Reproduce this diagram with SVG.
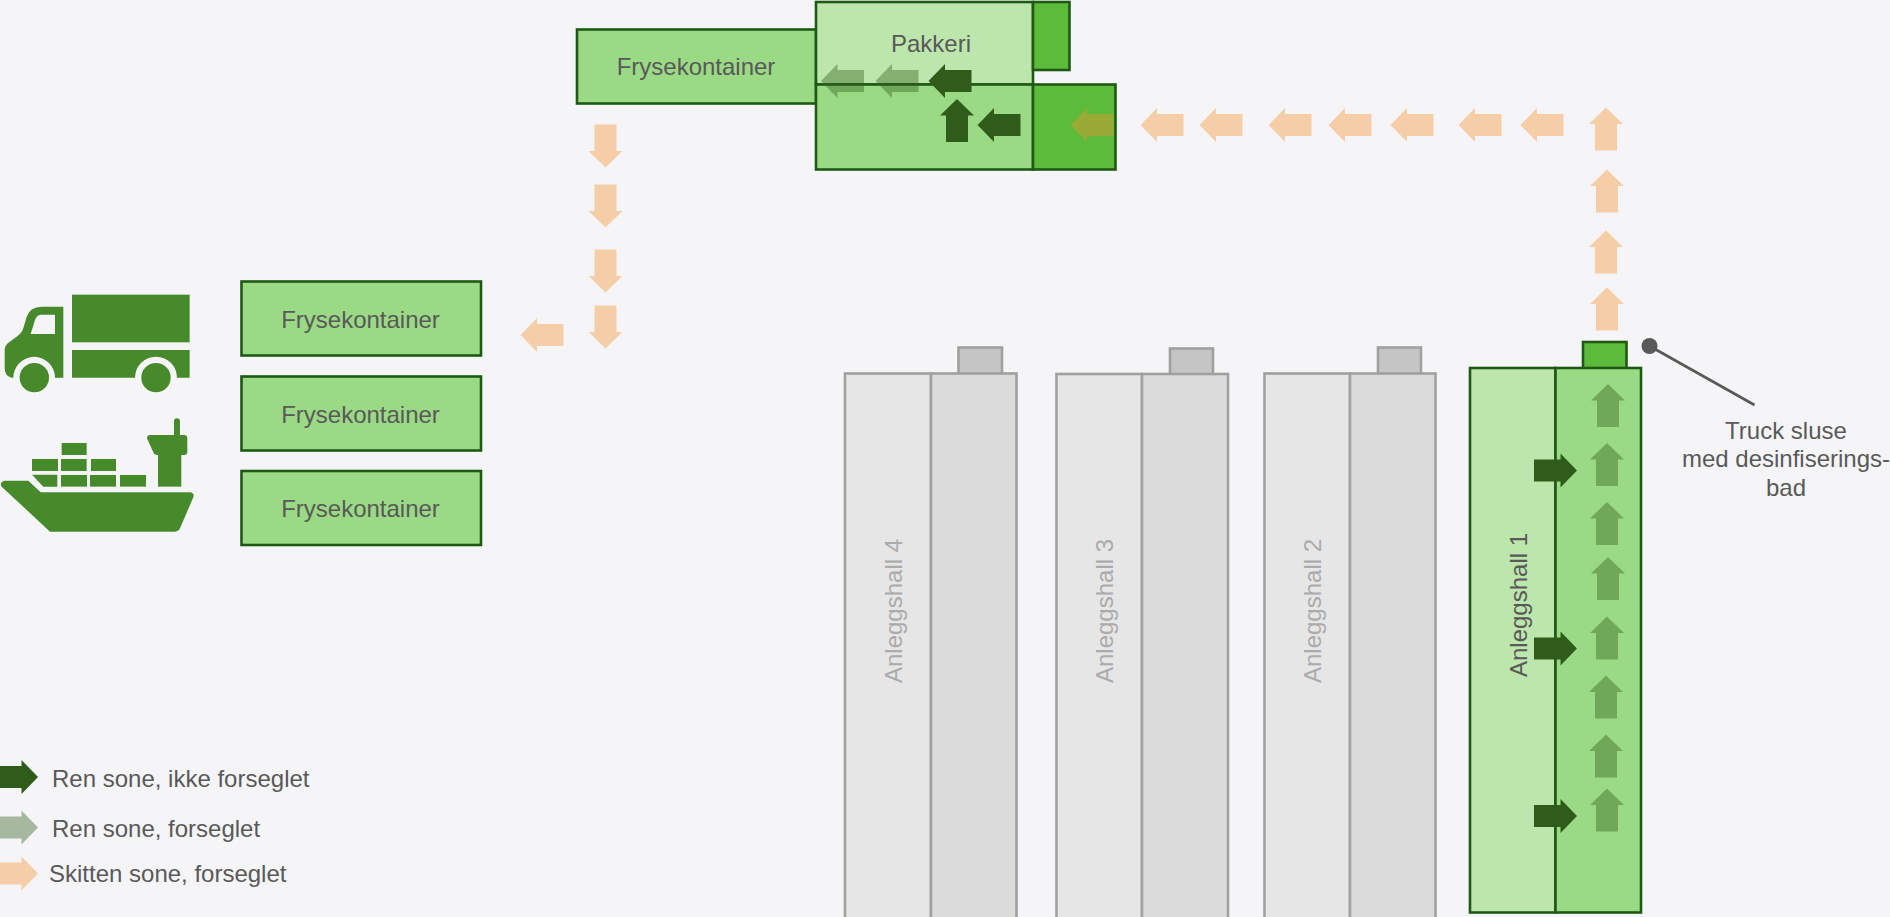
<svg xmlns="http://www.w3.org/2000/svg" xmlns:xlink="http://www.w3.org/1999/xlink" width="1890" height="917" viewBox="0 0 1890 917">
<style>
text{font-family:"Liberation Sans",Arial,sans-serif;font-size:24px;fill:#595959}
.m{text-anchor:middle}
.g{stroke:#1F5A14;stroke-width:2.6}
.l{fill:#BCE6AC}.d{fill:#9BDA85}.b{fill:#5CBB3A}
.h{stroke:#A0A0A0;stroke-width:2.6}
.hl{fill:#E6E6E6}.hd{fill:#DBDBDB}.ht{fill:#C5C5C5}
.gt{fill:#ABABAB}
.dk{fill:#2F5C1A}.dm{fill:#2F5C1A;opacity:.4}.or{fill:#F59330;opacity:.4}
.ic{fill:#478A2B}
</style>
<defs><path id="a" d="M-21.500-11H5V-17L21.500 0L5 17V11H-21.500Z"/></defs>
<rect width="1890" height="917" fill="#F5F5F8"/>
<g id="frys-top"><rect class="g d" x="577" y="29.500" width="239" height="74"/><text class="m" x="696" y="75">Frysekontainer</text></g>
<g id="pakkeri"><rect class="g l" x="816" y="2" width="217" height="82.500"/><rect class="g d" x="816" y="84.500" width="217" height="85"/><rect class="g b" x="1033" y="2" width="36.500" height="68"/><rect class="g b" x="1033" y="84.500" width="82.500" height="85"/><text class="m" x="931" y="52">Pakkeri</text></g>
<g id="frys-1"><rect class="g d" x="241.500" y="281.500" width="239.500" height="74"/><text class="m" x="360.500" y="327.500">Frysekontainer</text></g>
<g id="frys-2"><rect class="g d" x="241.500" y="376.500" width="239.500" height="74"/><text class="m" x="360.500" y="422.500">Frysekontainer</text></g>
<g id="frys-3"><rect class="g d" x="241.500" y="471" width="239.500" height="74"/><text class="m" x="360.500" y="516.500">Frysekontainer</text></g>
<g id="truck" class="ic" transform="translate(0 270) scale(.3333)">
<rect x="216" y="74" width="353" height="143"/>
<path d="M216 240H569V323H531A62 62 0 0 0 405 323H216Z"/>
<circle cx="468" cy="323" r="44"/><circle cx="103" cy="323" r="44"/>
<path fill-rule="evenodd" d="M190 110V323H165A62 62 0 0 0 40 323H35Q15 320 14 295V240Q14 225 29 215L50 200Q65 190 70 175L80 140Q90 110 125 110ZM165 134V192H92L105 150Q110 134 125 134Z"/>
</g>
<g id="ship" class="ic" transform="translate(0 270) scale(.3333)">
<path d="M12 632H85L122 667H572Q584 670 580 682L540 775Q535 785 525 785H150L5 650Q-3 638 12 632Z"/>
<rect x="185" y="519" width="75" height="36"/>
<rect x="96" y="567" width="78" height="36"/><rect x="183" y="567" width="77" height="36"/><rect x="273" y="567" width="75" height="36"/>
<path d="M96 614H172V650H130Z"/>
<rect x="183" y="615" width="78" height="35"/><rect x="270" y="615" width="78" height="35"/><rect x="360" y="615" width="78" height="35"/>
<path d="M474 555H544V650H474Z"/>
<path d="M451 495H552Q562 495 562 505V545Q562 555 552 555H470Q462 555 460 547L441 505Q441 495 451 495Z"/>
<rect x="522" y="445" width="18" height="55" rx="9"/>
</g>
<g id="hall-4"><rect class="h ht" x="958.500" y="347.500" width="43.500" height="30"/><rect class="h hl" x="845" y="373.500" width="86" height="560"/><rect class="h hd" x="931" y="373.500" width="85.500" height="560"/><text class="m gt" transform="translate(902 611) rotate(-90)">Anleggshall 4</text></g>
<g id="hall-3"><rect class="h ht" x="1170" y="348.500" width="43" height="30"/><rect class="h hl" x="1056.500" y="374" width="85.500" height="560"/><rect class="h hd" x="1142" y="374" width="86" height="560"/><text class="m gt" transform="translate(1113 611) rotate(-90)">Anleggshall 3</text></g>
<g id="hall-2"><rect class="h ht" x="1378" y="347.500" width="43" height="30"/><rect class="h hl" x="1264.500" y="373.500" width="85.500" height="560"/><rect class="h hd" x="1350" y="373.500" width="85.500" height="560"/><text class="m gt" transform="translate(1320.500 611) rotate(-90)">Anleggshall 2</text></g>
<g id="hall-1"><rect class="g b" x="1583" y="342" width="43.500" height="30"/><rect class="g l" x="1470" y="368" width="85.500" height="544.500"/><rect class="g d" x="1555.500" y="368" width="85.500" height="544.500"/><text class="m" transform="translate(1527 605) rotate(-90)">Anleggshall 1</text></g>
<g id="callout"><line x1="1649.500" y1="346" x2="1754.500" y2="405" stroke="#595959" stroke-width="2.600"/><circle cx="1649.500" cy="346" r="8" fill="#595959"/>
<text class="m" x="1786" y="439">Truck sluse</text><text class="m" x="1786" y="467">med desinfiserings-</text><text class="m" x="1786" y="496">bad</text></g>
<g id="connectors">
<use href="#a" class="dm" transform="translate(842.500 81) rotate(180)"/>
<use href="#a" class="dm" transform="translate(897 81) rotate(180)"/>
<use href="#a" class="dk" transform="translate(950 81) rotate(180)"/>
<use href="#a" class="dk" transform="translate(957 120.500) rotate(-90)"/>
<use href="#a" class="dk" transform="translate(999 125) rotate(180)"/>
<use href="#a" class="or" transform="translate(1092 125) rotate(180)"/>
<use href="#a" class="or" transform="translate(1162 125) rotate(180)"/>
<use href="#a" class="or" transform="translate(1221 125) rotate(180)"/>
<use href="#a" class="or" transform="translate(1290 125) rotate(180)"/>
<use href="#a" class="or" transform="translate(1350 125) rotate(180)"/>
<use href="#a" class="or" transform="translate(1412 125) rotate(180)"/>
<use href="#a" class="or" transform="translate(1480 125) rotate(180)"/>
<use href="#a" class="or" transform="translate(1542 125) rotate(180)"/>
<use href="#a" class="or" transform="translate(1606 129) rotate(-90)"/>
<use href="#a" class="or" transform="translate(1607 191) rotate(-90)"/>
<use href="#a" class="or" transform="translate(1606 252) rotate(-90)"/>
<use href="#a" class="or" transform="translate(1607 309) rotate(-90)"/>
<use href="#a" class="or" transform="translate(605.500 146) rotate(90)"/>
<use href="#a" class="or" transform="translate(605.500 206) rotate(90)"/>
<use href="#a" class="or" transform="translate(605.500 271) rotate(90)"/>
<use href="#a" class="or" transform="translate(605.500 327) rotate(90)"/>
<use href="#a" class="or" transform="translate(542 335) rotate(180)"/>
<use href="#a" class="dm" transform="translate(1608 405.500) rotate(-90)"/>
<use href="#a" class="dm" transform="translate(1607 464.500) rotate(-90)"/>
<use href="#a" class="dm" transform="translate(1607 523.500) rotate(-90)"/>
<use href="#a" class="dm" transform="translate(1608 578.500) rotate(-90)"/>
<use href="#a" class="dm" transform="translate(1607 638) rotate(-90)"/>
<use href="#a" class="dm" transform="translate(1606 697) rotate(-90)"/>
<use href="#a" class="dm" transform="translate(1606 756) rotate(-90)"/>
<use href="#a" class="dm" transform="translate(1607 810) rotate(-90)"/>
<use href="#a" class="dk" transform="translate(1555.500 470.500)"/>
<use href="#a" class="dk" transform="translate(1555.500 648.500)"/>
<use href="#a" class="dk" transform="translate(1555.500 816)"/>
</g>
<g id="legend">
<use href="#a" class="dk" transform="translate(16.500 777)"/><text x="52" y="787">Ren sone, ikke forseglet</text>
<use href="#a" class="dm" transform="translate(16.500 827.500)"/><text x="52" y="837">Ren sone, forseglet</text>
<use href="#a" class="or" transform="translate(16.500 873.500)"/><text x="49" y="882">Skitten sone, forseglet</text>
</g>
</svg>
